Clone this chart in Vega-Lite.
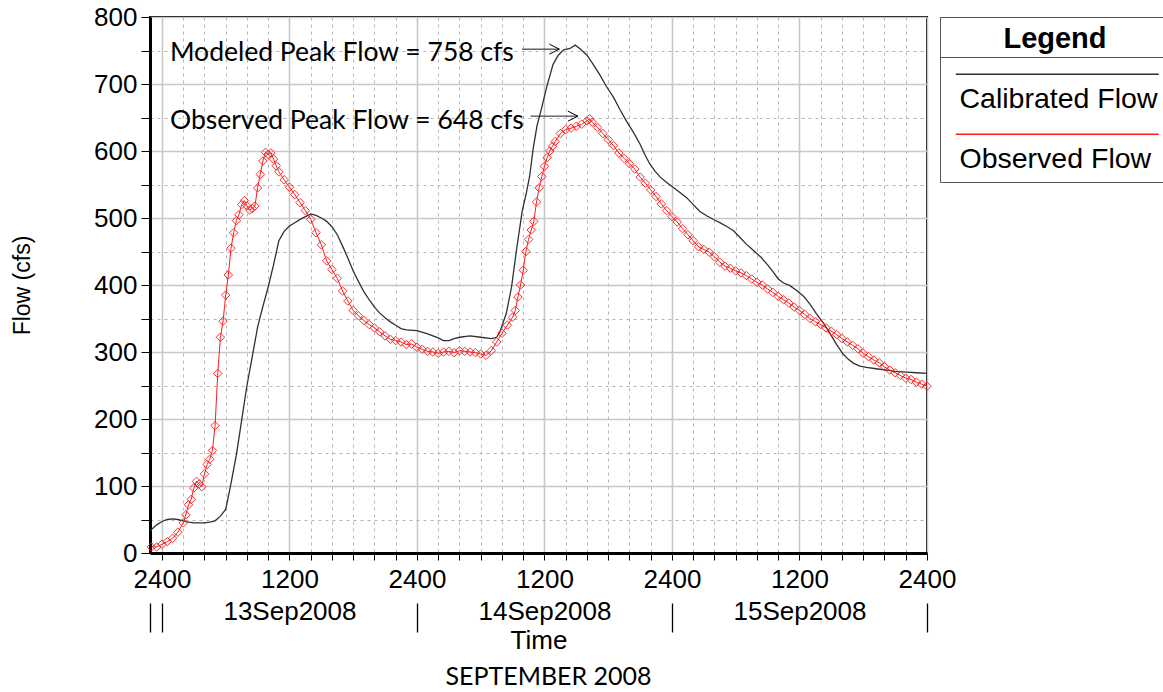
{
  "$schema": "https://vega.github.io/schema/vega-lite/v6.json",
  "width": 777,
  "height": 536,
  "autosize": "none",
  "padding": {"left": 150, "top": 17, "right": 236, "bottom": 139},
  "background": "white",
  "config": {"view": {"stroke": "black", "strokeWidth": 2}, "font": "Liberation Sans"},
  "datasets": {
    "cal": [
      {"t": -1.125, "q": 33}, {"t": -0.5, "q": 42}, {"t": 0, "q": 47}, {"t": 0.5, "q": 50}, {"t": 1, "q": 51}, {"t": 1.5, "q": 50}, {"t": 2, "q": 48}, {"t": 2.5, "q": 46}, {"t": 3, "q": 45}, {"t": 3.5, "q": 45}, {"t": 4, "q": 45}, {"t": 4.5, "q": 46}, {"t": 5, "q": 48}, {"t": 5.5, "q": 55}, {"t": 6, "q": 65}, {"t": 6.5, "q": 104}, {"t": 7, "q": 146}, {"t": 7.5, "q": 198}, {"t": 8, "q": 250}, {"t": 8.5, "q": 293}, {"t": 9, "q": 337}, {"t": 9.5, "q": 368}, {"t": 10, "q": 397}, {"t": 10.5, "q": 430}, {"t": 11, "q": 466}, {"t": 11.5, "q": 480}, {"t": 12, "q": 488}, {"t": 12.5, "q": 493}, {"t": 13, "q": 498}, {"t": 13.5, "q": 502}, {"t": 14, "q": 506}, {"t": 14.5, "q": 504}, {"t": 15, "q": 500}, {"t": 15.5, "q": 495}, {"t": 16, "q": 487}, {"t": 16.5, "q": 475}, {"t": 17, "q": 458}, {"t": 17.5, "q": 440}, {"t": 18, "q": 421}, {"t": 18.5, "q": 405}, {"t": 19, "q": 390}, {"t": 19.5, "q": 378}, {"t": 20, "q": 367}, {"t": 20.5, "q": 358}, {"t": 21, "q": 351}, {"t": 21.5, "q": 345}, {"t": 22, "q": 340}, {"t": 22.5, "q": 335}, {"t": 23, "q": 333}, {"t": 24, "q": 332}, {"t": 25, "q": 327}, {"t": 26, "q": 321}, {"t": 26.5, "q": 317}, {"t": 27, "q": 317}, {"t": 27.5, "q": 320}, {"t": 28, "q": 322}, {"t": 29, "q": 324}, {"t": 30, "q": 322}, {"t": 31, "q": 320}, {"t": 31.5, "q": 322}, {"t": 31.8, "q": 330}, {"t": 32.4, "q": 357}, {"t": 32.9, "q": 397}, {"t": 33.4, "q": 456}, {"t": 33.9, "q": 510}, {"t": 34.3, "q": 538}, {"t": 34.6, "q": 562}, {"t": 34.95, "q": 605}, {"t": 35.3, "q": 638}, {"t": 35.7, "q": 662}, {"t": 36.2, "q": 695}, {"t": 36.8, "q": 729}, {"t": 37.3, "q": 743}, {"t": 37.8, "q": 751}, {"t": 38.4, "q": 753}, {"t": 38.9, "q": 758}, {"t": 39.4, "q": 752}, {"t": 40, "q": 743}, {"t": 40.6, "q": 729}, {"t": 41.2, "q": 714}, {"t": 41.8, "q": 697}, {"t": 42.5, "q": 680}, {"t": 43.1, "q": 662}, {"t": 43.7, "q": 645}, {"t": 44.4, "q": 627}, {"t": 45, "q": 610}, {"t": 45.5, "q": 593}, {"t": 45.9, "q": 581}, {"t": 46.4, "q": 570}, {"t": 46.9, "q": 561}, {"t": 47.5, "q": 553}, {"t": 48.1, "q": 546}, {"t": 48.75, "q": 538}, {"t": 49.4, "q": 530}, {"t": 50, "q": 520}, {"t": 50.6, "q": 510}, {"t": 51.3, "q": 503}, {"t": 52, "q": 497}, {"t": 52.5, "q": 493}, {"t": 53.2, "q": 487}, {"t": 53.8, "q": 481}, {"t": 54.4, "q": 471}, {"t": 55, "q": 461}, {"t": 55.7, "q": 451}, {"t": 56.4, "q": 441}, {"t": 57, "q": 430}, {"t": 57.5, "q": 420}, {"t": 58, "q": 409}, {"t": 58.5, "q": 403}, {"t": 59.1, "q": 399}, {"t": 59.8, "q": 391}, {"t": 60.4, "q": 383}, {"t": 61, "q": 371}, {"t": 61.6, "q": 357}, {"t": 62.3, "q": 342}, {"t": 62.9, "q": 327}, {"t": 63.5, "q": 311}, {"t": 64.1, "q": 297}, {"t": 64.6, "q": 289}, {"t": 65.1, "q": 283}, {"t": 65.7, "q": 279}, {"t": 66.3, "q": 277}, {"t": 67.2, "q": 275}, {"t": 68.2, "q": 273}, {"t": 69, "q": 271}, {"t": 70.1, "q": 270}, {"t": 71, "q": 269}, {"t": 72, "q": 268}
    ],
    "obs": [
      {"t": -1, "q": 9}, {"t": -0.5, "q": 9}, {"t": 0, "q": 13}, {"t": 0.5, "q": 17}, {"t": 1, "q": 22}, {"t": 1.5, "q": 31}, {"t": 2, "q": 45}, {"t": 2.25, "q": 57}, {"t": 2.5, "q": 72}, {"t": 2.75, "q": 80}, {"t": 3, "q": 97}, {"t": 3.25, "q": 107}, {"t": 3.5, "q": 103}, {"t": 3.75, "q": 99}, {"t": 4, "q": 118}, {"t": 4.25, "q": 132}, {"t": 4.5, "q": 140}, {"t": 4.75, "q": 153}, {"t": 5, "q": 190}, {"t": 5.25, "q": 268}, {"t": 5.5, "q": 322}, {"t": 5.75, "q": 346}, {"t": 6, "q": 385}, {"t": 6.25, "q": 415}, {"t": 6.5, "q": 455}, {"t": 6.75, "q": 478}, {"t": 7, "q": 496}, {"t": 7.25, "q": 505}, {"t": 7.5, "q": 520}, {"t": 7.75, "q": 526}, {"t": 8, "q": 518}, {"t": 8.25, "q": 512}, {"t": 8.5, "q": 514}, {"t": 8.75, "q": 518}, {"t": 9, "q": 545}, {"t": 9.25, "q": 565}, {"t": 9.5, "q": 585}, {"t": 9.75, "q": 598}, {"t": 10, "q": 595}, {"t": 10.25, "q": 597}, {"t": 10.5, "q": 588}, {"t": 10.75, "q": 578}, {"t": 11, "q": 569}, {"t": 11.5, "q": 557}, {"t": 12, "q": 546}, {"t": 12.5, "q": 535}, {"t": 13, "q": 523}, {"t": 13.5, "q": 511}, {"t": 14, "q": 498}, {"t": 14.5, "q": 478}, {"t": 15, "q": 460}, {"t": 15.5, "q": 436}, {"t": 16, "q": 423}, {"t": 16.5, "q": 410}, {"t": 17, "q": 391}, {"t": 17.5, "q": 376}, {"t": 18, "q": 362}, {"t": 18.5, "q": 354}, {"t": 19, "q": 347}, {"t": 19.5, "q": 341}, {"t": 20, "q": 336}, {"t": 20.5, "q": 330}, {"t": 21, "q": 324}, {"t": 21.5, "q": 319}, {"t": 22, "q": 317}, {"t": 22.5, "q": 315}, {"t": 23, "q": 311}, {"t": 23.5, "q": 312}, {"t": 24, "q": 307}, {"t": 24.5, "q": 304}, {"t": 25, "q": 301}, {"t": 25.5, "q": 300}, {"t": 26, "q": 298}, {"t": 26.5, "q": 300}, {"t": 27, "q": 301}, {"t": 27.5, "q": 299}, {"t": 28, "q": 302}, {"t": 28.5, "q": 301}, {"t": 29, "q": 300}, {"t": 29.5, "q": 299}, {"t": 30, "q": 297}, {"t": 30.5, "q": 295}, {"t": 31, "q": 302}, {"t": 31.5, "q": 315}, {"t": 32, "q": 328}, {"t": 32.5, "q": 340}, {"t": 33, "q": 352}, {"t": 33.25, "q": 362}, {"t": 33.5, "q": 382}, {"t": 33.75, "q": 400}, {"t": 34, "q": 422}, {"t": 34.25, "q": 450}, {"t": 34.5, "q": 468}, {"t": 34.75, "q": 482}, {"t": 35, "q": 495}, {"t": 35.25, "q": 524}, {"t": 35.5, "q": 545}, {"t": 35.75, "q": 562}, {"t": 36, "q": 577}, {"t": 36.25, "q": 590}, {"t": 36.5, "q": 600}, {"t": 36.75, "q": 607}, {"t": 37, "q": 614}, {"t": 37.5, "q": 626}, {"t": 38, "q": 632}, {"t": 38.5, "q": 634}, {"t": 39, "q": 637}, {"t": 39.5, "q": 640}, {"t": 40, "q": 645}, {"t": 40.25, "q": 648}, {"t": 40.5, "q": 643}, {"t": 41, "q": 635}, {"t": 41.5, "q": 626}, {"t": 42, "q": 617}, {"t": 42.5, "q": 608}, {"t": 43, "q": 597}, {"t": 43.5, "q": 589}, {"t": 44, "q": 581}, {"t": 44.5, "q": 573}, {"t": 45, "q": 561}, {"t": 45.5, "q": 552}, {"t": 46, "q": 542}, {"t": 46.5, "q": 532}, {"t": 47, "q": 521}, {"t": 47.5, "q": 511}, {"t": 48, "q": 502}, {"t": 48.5, "q": 494}, {"t": 49, "q": 484}, {"t": 49.5, "q": 475}, {"t": 50, "q": 466}, {"t": 50.5, "q": 457}, {"t": 51, "q": 453}, {"t": 51.5, "q": 449}, {"t": 52, "q": 442}, {"t": 52.5, "q": 434}, {"t": 53, "q": 428}, {"t": 53.5, "q": 425}, {"t": 54, "q": 421}, {"t": 54.5, "q": 418}, {"t": 55, "q": 414}, {"t": 55.5, "q": 409}, {"t": 56, "q": 404}, {"t": 56.5, "q": 400}, {"t": 57, "q": 394}, {"t": 57.5, "q": 389}, {"t": 58, "q": 383}, {"t": 58.5, "q": 378}, {"t": 59, "q": 373}, {"t": 59.5, "q": 367}, {"t": 60, "q": 362}, {"t": 60.5, "q": 356}, {"t": 61, "q": 350}, {"t": 61.5, "q": 345}, {"t": 62, "q": 341}, {"t": 62.5, "q": 336}, {"t": 63, "q": 331}, {"t": 63.5, "q": 326}, {"t": 64, "q": 320}, {"t": 64.5, "q": 315}, {"t": 65, "q": 310}, {"t": 65.5, "q": 305}, {"t": 66, "q": 298}, {"t": 66.5, "q": 293}, {"t": 67, "q": 288}, {"t": 67.5, "q": 284}, {"t": 68, "q": 278}, {"t": 68.5, "q": 273}, {"t": 69, "q": 269}, {"t": 69.5, "q": 265}, {"t": 70, "q": 261}, {"t": 70.5, "q": 259}, {"t": 71, "q": 255}, {"t": 71.5, "q": 252}, {"t": 72, "q": 249}
    ],
    "ann": [
      {"t": 0.75, "q": 746, "label": "Modeled Peak Flow = 758 cfs"},
      {"t": 0.75, "q": 645, "label": "Observed Peak Flow = 648 cfs"}
    ],
    "arr": [
      {"t": 33.9, "t2": 37.4, "q": 752},
      {"t": 34.7, "t2": 39.15, "q": 652}
    ]
  },
  "layer": [
    {
      "data": {"name": "cal"},
      "mark": {"type": "line", "strokeWidth": 1.3},
      "encoding": {
        "x": {
          "field": "t", "type": "quantitative",
          "scale": {"domain": [-1.125, 72], "nice": false, "zero": false},
          "axis": {
            "orient": "bottom",
            "values": [0,2,4,6,8,10,12,14,16,18,20,22,24,26,28,30,32,34,36,38,40,42,44,46,48,50,52,54,56,58,60,62,64,66,68,70,72],
            "labelExpr": "datum.value % 24 === 0 ? '2400' : (datum.value % 12 === 0 ? '1200' : '')",
            "labelFont": "Liberation Sans", "labelFontSize": 26, "labelColor": "black", "labelPadding": 6,
            "labelFlush": false, "labelOverlap": false, "labelBound": false,
            "tickSize": 7, "tickColor": "black", "tickWidth": 1,
            "domain": true, "domainColor": "black", "domainWidth": 3,
            "grid": true,
            "gridColor": {"condition": {"test": "datum.value % 12 === 0", "value": "#c8c8c8"}, "value": "#b4b4b4"},
            "gridDash": {"condition": {"test": "datum.value % 12 === 0", "value": []}, "value": [3, 4]},
            "gridWidth": {"condition": {"test": "datum.value % 12 === 0", "value": 1.6}, "value": 1},
            "title": "Time", "titleFont": "Liberation Sans", "titleFontSize": 26, "titleFontWeight": "normal", "titleColor": "black",
            "titleY": 87, "titleBaseline": "middle"
          }
        },
        "y": {
          "field": "q", "type": "quantitative",
          "scale": {"domain": [0, 800], "nice": false},
          "axis": {
            "orient": "left",
            "values": [0,50,100,150,200,250,300,350,400,450,500,550,600,650,700,750,800],
            "labelExpr": "datum.value % 100 === 0 ? datum.label : ''",
            "labelFont": "Liberation Sans", "labelFontSize": 26, "labelColor": "black", "labelPadding": 4,
            "labelFlush": false, "labelOverlap": false, "labelBound": false,
            "tickSize": 9, "tickColor": "black", "tickWidth": 1,
            "domain": true, "domainColor": "black", "domainWidth": 3,
            "grid": true,
            "gridColor": {"condition": {"test": "datum.value % 100 === 0", "value": "#c8c8c8"}, "value": "#b4b4b4"},
            "gridDash": {"condition": {"test": "datum.value % 100 === 0", "value": []}, "value": [3, 4]},
            "gridWidth": {"condition": {"test": "datum.value % 100 === 0", "value": 1.6}, "value": 1},
            "title": "Flow (cfs)", "titleFont": "Liberation Sans", "titleFontSize": 23, "titleFontWeight": "normal", "titleColor": "black",
            "titleX": -128, "titleY": 268, "titleAngle": 270, "titleAlign": "center", "titleBaseline": "middle"
          }
        },
        "color": {
          "datum": "Calibrated Flow", "type": "nominal",
          "scale": {"domain": ["Calibrated Flow", "Observed Flow"], "range": ["#303030", "#ff1a1a"]},
          "legend": {
            "title": "Legend", "orient": "none", "direction": "vertical", "legendX": 790, "legendY": 0,
            "strokeColor": "#555555", "fillColor": "white", "padding": 8,
            "titleFont": "Liberation Sans", "titleFontSize": 29, "titleFontWeight": "bold", "titleColor": "black",
            "titleAnchor": "middle", "titlePadding": 17,
            "symbolType": "M-10.15,-1.1L10.15,-1.1", "symbolSize": 400, "symbolStrokeWidth": 1.5, "symbolOffset": 95,
            "labelFont": "Liberation Sans", "labelFontSize": 28.5, "labelColor": "black",
            "labelAlign": "left", "labelBaseline": "top", "labelOffset": -112, "labelLimit": 400,
            "rowPadding": 17
          }
        }
      }
    },
    {
      "data": {"name": "obs"},
      "mark": {"type": "line", "strokeWidth": 1},
      "encoding": {
        "x": {
          "field": "t", "type": "quantitative",
          "scale": {"domain": [-1.125, 72], "nice": false, "zero": false},
          "axis": {
            "orient": "bottom",
            "values": [12, 36, 60],
            "labelExpr": "datum.value === 12 ? '13Sep2008' : (datum.value === 36 ? '14Sep2008' : '15Sep2008')",
            "labelFont": "Liberation Sans", "labelFontSize": 26, "labelColor": "black", "labelPadding": 2,
            "labelFlush": false, "labelOverlap": false, "labelBound": false,
            "ticks": false, "tickSize": 0, "domain": false, "grid": false, "offset": 43, "title": null
          }
        },
        "y": {"field": "q", "type": "quantitative", "scale": {"domain": [0, 800], "nice": false}, "axis": null},
        "color": {"datum": "Observed Flow", "type": "nominal", "legend": null}
      }
    },
    {
      "data": {"name": "obs"},
      "mark": {"type": "point", "shape": "diamond", "filled": false, "size": 72, "strokeWidth": 1, "color": "#ff1a1a", "opacity": 0.9},
      "encoding": {
        "x": {
          "field": "t", "type": "quantitative",
          "scale": {"domain": [-1.125, 72], "nice": false, "zero": false},
          "axis": {
            "orient": "bottom",
            "values": [-1.1, 0, 24, 48, 72],
            "labels": false, "domain": false, "grid": false,
            "ticks": true, "tickSize": 29, "tickColor": "black", "tickWidth": 1.3, "offset": 50,
            "title": "SEPTEMBER 2008", "titleFont": "Lato", "titleFontSize": 25, "titleFontWeight": "normal", "titleColor": "black",
            "titleX": 398, "titleAlign": "center", "titleY": 73, "titleBaseline": "middle"
          }
        },
        "y": {"field": "q", "type": "quantitative", "scale": {"domain": [0, 800], "nice": false}, "axis": null}
      }
    },
    {
      "data": {"name": "ann"},
      "mark": {"type": "text", "align": "left", "baseline": "middle", "font": "Lato", "fontSize": 26.5, "color": "black"},
      "encoding": {
        "x": {"field": "t", "type": "quantitative", "scale": {"domain": [-1.125, 72], "nice": false, "zero": false}, "axis": null},
        "y": {"field": "q", "type": "quantitative", "scale": {"domain": [0, 800], "nice": false}, "axis": null},
        "text": {"field": "label"}
      }
    },
    {
      "data": {"name": "arr"},
      "mark": {"type": "rule", "strokeWidth": 1, "color": "black"},
      "encoding": {
        "x": {"field": "t", "type": "quantitative", "scale": {"domain": [-1.125, 72], "nice": false, "zero": false}, "axis": null},
        "x2": {"field": "t2"},
        "y": {"field": "q", "type": "quantitative", "scale": {"domain": [0, 800], "nice": false}, "axis": null},
        "strokeDash": {
          "datum": "L", "type": "nominal",
          "scale": {"domain": ["L"], "range": [[1, 0]]},
          "legend": {
            "title": null, "orient": "none", "direction": "vertical", "legendX": 790, "legendY": 0,
            "strokeColor": "#555555", "padding": 14,
            "symbolType": "M-12,0L12,0", "symbolSize": 400, "symbolStrokeWidth": 1, "symbolOpacity": 0, "symbolOffset": 100,
            "labelExpr": "''", "labelFontSize": 2, "labelOffset": 0
          }
        }
      }
    },
    {
      "data": {"name": "arr"},
      "mark": {"type": "point", "shape": "M-1,-0.5L0,0L-1,0.5", "filled": false, "size": 400, "strokeWidth": 1, "color": "black", "opacity": 1},
      "encoding": {
        "x": {"field": "t2", "type": "quantitative", "scale": {"domain": [-1.125, 72], "nice": false, "zero": false}, "axis": null},
        "y": {"field": "q", "type": "quantitative", "scale": {"domain": [0, 800], "nice": false}, "axis": null}
      }
    }
  ],
  "resolve": {"axis": {"x": "independent", "y": "independent"}}
}
